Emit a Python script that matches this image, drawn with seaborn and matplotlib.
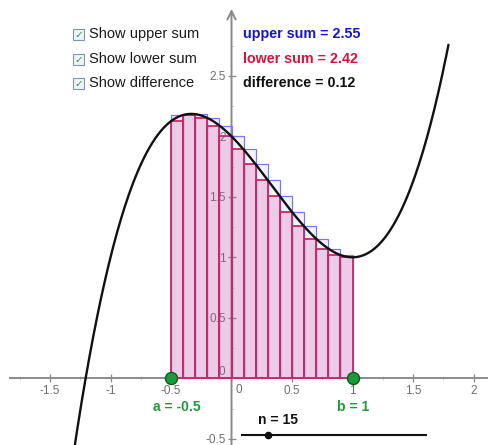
import numpy as np
import pandas as pd
import matplotlib
matplotlib.use("Agg")
import matplotlib.pyplot as plt
from matplotlib.patches import Rectangle
from matplotlib.ticker import MultipleLocator, FixedLocator
import seaborn as sns

# f(x) = x^3 - x^2 - x + 2
coeffs = [1, -1, -1, 2]
a_val = -0.5
b_val = 1.0
n_val = 15
upper_heights = [2.176, 2.185, 2.183, 2.152, 2.089, 2.000, 1.891, 1.768,
                 1.637, 1.504, 1.375, 1.256, 1.153, 1.072, 1.019]
lower_heights = [2.125, 2.176, 2.152, 2.089, 2.000, 1.891, 1.768, 1.637,
                 1.504, 1.375, 1.256, 1.153, 1.072, 1.019, 1.000]
upper_sum = 2.55
lower_sum = 2.42
difference = 0.12
x_tick_labels = ["-1.5", "-1", "-0.5", "0.5", "1", "1.5", "2"]
y_tick_labels = ["-0.5", "0.5", "1", "1.5", "2", "2.5"]
x_tick_values = [-1.5, -1, -0.5, 0.5, 1, 1.5, 2]
y_tick_values = [-0.5, 0.5, 1, 1.5, 2, 2.5]
checkbox_labels = ["Show upper sum", "Show lower sum", "Show difference"]

sns.set_theme(style="white")
plt.rcParams["font.family"] = ["Liberation Sans", "DejaVu Sans"]

W, H = 488, 445
OX, OY, S = 231.5, 378.3, 121.0  # pixel origin and pixels per unit


def px(xp, yp):
    """Convert image pixel position (from top-left) to data coordinates."""
    return (xp - OX) / S, (OY - yp) / S


fig = plt.figure(figsize=(W / 100, H / 100), dpi=100)
ax = fig.add_axes([0, 0, 1, 1])
ax.set_facecolor("white")

axis_col = "#8a8a8a"
label_col = "#6e6e6e"

# Riemann rectangles
edges = np.linspace(a_val, b_val, n_val + 1)
mids = (edges[:-1] + edges[1:]) / 2
df = pd.DataFrame({"x": mids, "upper": upper_heights, "lower": lower_heights})

sns.histplot(data=df, x="x", weights="upper", bins=edges.tolist(),
             stat="count", ax=ax, color="#9090ff", edgecolor="#7878ff",
             linewidth=0.9, zorder=3)
for p in ax.patches:
    p.set_alpha(None)
    p.set_facecolor((0.55, 0.55, 1.0, 0.10))
    p.set_edgecolor("#7878ff")
n_up = len(ax.patches)
sns.histplot(data=df, x="x", weights="lower", bins=edges.tolist(),
             stat="count", ax=ax, color="#d03a80", edgecolor="#c42a66",
             linewidth=1.3, zorder=4)
for p in ax.patches[n_up:]:
    p.set_alpha(None)
    p.set_facecolor((0.82, 0.25, 0.55, 0.22))
    p.set_edgecolor("#c42a66")

# the function curve
xs = np.linspace(-1.45, 1.793, 400)
curve = pd.DataFrame({"x": xs, "y": np.polyval(coeffs, xs)})
sns.lineplot(data=curve, x="x", y="y", ax=ax, color="#111111", lw=1.7,
             zorder=6)

# interval end points
ends = pd.DataFrame({"x": [a_val, b_val], "y": [0, 0]})
sns.scatterplot(data=ends, x="x", y="y", ax=ax, s=75, color="#1e9a3c",
                edgecolor="#0d5a1e", linewidth=1.0, zorder=8)

ax.set_xlabel("")
ax.set_ylabel("")
ax.set_xlim(-OX / S, (W - OX) / S)
ax.set_ylim(-(H - OY) / S, OY / S)

# axes lines through the origin
for sp in ["top", "right"]:
    ax.spines[sp].set_visible(False)
ax.spines["left"].set_position(("data", 0))
ax.spines["bottom"].set_position(("data", 0))
ax.spines["left"].set_color("none")
ax.spines["bottom"].set_color("none")

ax.annotate("", xy=(0, px(0, 9)[1]), xytext=(0, ax.get_ylim()[0]),
            arrowprops=dict(arrowstyle="->,head_length=0.5,head_width=0.25",
                            color=axis_col, lw=1.4, shrinkA=0, shrinkB=0),
            zorder=1)
ax.plot([px(9, 0)[0], ax.get_xlim()[1]], [0, 0], color=axis_col, lw=1.4,
        zorder=1, solid_capstyle="butt")

ax.xaxis.set_major_locator(FixedLocator(x_tick_values))
ax.yaxis.set_major_locator(FixedLocator(y_tick_values))
ax.set_xticklabels(x_tick_labels)
ax.set_yticklabels(y_tick_labels)
ax.xaxis.set_minor_locator(MultipleLocator(0.25))
ax.yaxis.set_minor_locator(MultipleLocator(0.25))
ax.tick_params(axis="both", which="major", direction="inout", length=6,
               width=0.9, color=axis_col, labelcolor=label_col, labelsize=8.5,
               bottom=True, left=True)
ax.tick_params(axis="x", which="major", pad=2)
ax.tick_params(axis="y", which="major", pad=1)
ax.tick_params(axis="both", which="minor", direction="inout", length=3,
               width=0.6, color="#c8c8c8", bottom=True, left=True)
ax.text(*px(239, 390), "0", color=label_col, fontsize=8.5,
        ha="center", va="center", zorder=1)
ax.text(*px(222, 372), "0", color=label_col, fontsize=8.5,
        ha="center", va="center", zorder=1)

ax.text(*px(177, 407), f"a = {a_val:g}", color="#1e9a3c", fontsize=10,
        fontweight="bold", ha="center", va="center")
ax.text(*px(353, 407), f"b = {b_val:g}", color="#1e9a3c", fontsize=10,
        fontweight="bold", ha="center", va="center")

# slider for n
x0, y0 = px(241, 434.7)
x1, _ = px(427, 434.7)
ax.plot([x0, x1], [y0, y0], color="#111111", lw=1.5, zorder=7,
        solid_capstyle="butt")
ax.plot([px(268, 0)[0]], [y0], "o", color="#111111", ms=4.5, zorder=8)
ax.text(*px(278, 420), f"n = {n_val}", color="#111111", fontsize=10,
        fontweight="bold", ha="center", va="center")

# check boxes
rows = [34, 59, 83]
for lab, yp in zip(checkbox_labels, rows):
    bx, by = px(73, yp + 5.5)
    ax.add_patch(Rectangle((bx, by), 11 / S, 11 / S, facecolor="#eef4f8",
                           edgecolor="#7f97a8", lw=0.8, zorder=9))
    ax.text(*px(78.8, yp + 0.5), "✓", color="#2e9a3a", fontsize=7.5,
            fontweight="bold", ha="center", va="center", zorder=10,
            family=["DejaVu Sans"])
    ax.text(*px(89, yp), lab, color="#1a1a1a", fontsize=10.5,
            ha="left", va="center", zorder=10)

# sums
ax.text(*px(243, 34), f"upper sum = {upper_sum:.2f}", color="#1616c4",
        fontsize=10.3, fontweight="bold", ha="left", va="center")
ax.text(*px(243, 59), f"lower sum = {lower_sum:.2f}", color="#d4143c",
        fontsize=10.3, fontweight="bold", ha="left", va="center")
ax.text(*px(243, 83), f"difference = {difference:.2f}", color="#111111",
        fontsize=10.3, fontweight="bold", ha="left", va="center")

fig.savefig("out.png", dpi=100)
